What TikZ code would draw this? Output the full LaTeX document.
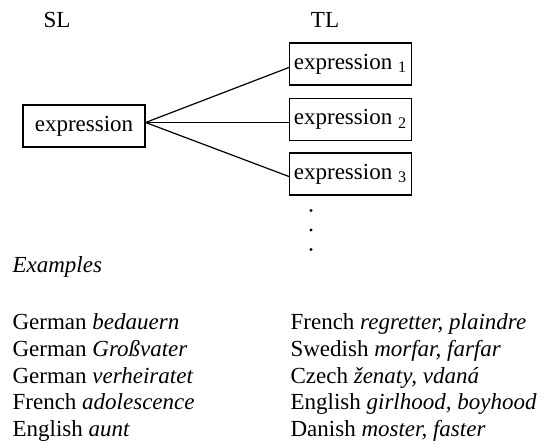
\documentclass[tikz,border=0pt]{standalone}
\usepackage{fontspec}
\setmainfont{Liberation Serif}
\usetikzlibrary{positioning}

\begin{document}
\begin{tikzpicture}[x=0.5pt, y=-0.5pt, semithick]
        \tikzstyle{every node}=[font=\fontsize{11.5}{13}\selectfont]
        \tikzstyle{expr}=[draw=black, minimum width=61pt, minimum height=21pt, inner sep=0pt]
        \tikzstyle{example}=[anchor=base west, inner sep=0pt]
        \tikzstyle{dot}=[circle, fill=black, inner sep=0pt, minimum size=1.6pt]
        \useasboundingbox (0,0) rectangle (543,442);
        % headings
        \node[anchor=base]    (SL)   at (57,27.5)    {SL};
        \node[anchor=base]    (TL)   at (325,27.5)   {TL};
        % source and target expressions
        \node[expr]   (src)   at (84,126)     {expression};
        \node[expr]   (tgt1)  at (350.5,64)   {expression \textsubscript{1}};
        \node[expr]   (tgt2)  at (350.5,119.5)  {expression \textsubscript{2}};
        \node[expr]   (tgt3)  at (350.5,174)  {expression \textsubscript{3}};
        \path
        ([yshift=1.75pt]src.east) edge ([yshift=-1.75pt]tgt1.west)
        ([yshift=1.75pt]src.east) edge ([yshift=-1.5pt]tgt2.west)
        ([yshift=1.75pt]src.east) edge ([yshift=-1.25pt]tgt3.west);
        \foreach \y [count=\i] in {210.5,230,249.5}
          \node[dot] (dot\i) at (311,\y) {};
        % examples
        \node[example]   (ex)   at (12,273)   {\textit{Examples}};
        \node[example]   (l1)   at (12,330)   {German \textit{bedauern}};
        \node[example]   (l2)   at (12,356.6) {German \textit{Großvater}};
        \node[example]   (l3)   at (12,383.2) {German \textit{verheiratet}};
        \node[example]   (l4)   at (12,409.8) {French \textit{adolescence}};
        \node[example]   (l5)   at (12,436.4) {English \textit{aunt}};
        \node[example]   (r1)   at (290,330)   {French \textit{regretter, plaindre}};
        \node[example]   (r2)   at (290,356.6) {Swedish \textit{morfar, farfar}};
        \node[example]   (r3)   at (290,383.2) {Czech \textit{ženaty, vdaná}};
        \node[example]   (r4)   at (290,409.8) {English \textit{girlhood, boyhood}};
        \node[example]   (r5)   at (290,436.4) {Danish \textit{moster, faster}};
      \end{tikzpicture}
\end{document}
